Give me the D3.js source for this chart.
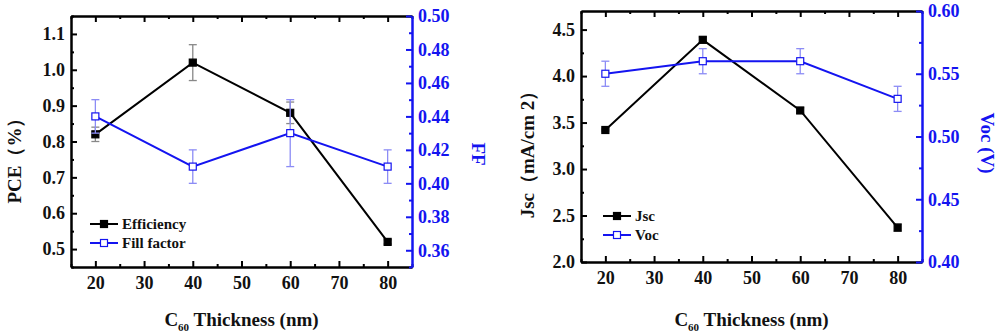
<!DOCTYPE html>
<html>
<head>
<meta charset="utf-8">
<script src="https://cdn.jsdelivr.net/npm/d3@7"></script>
<style>
  body { margin: 0; background: #fff; }
  .axis path, .axis line { stroke-width: 2; }
</style>
</head>
<body>
<svg id="chart" width="1000" height="336"></svg>
<script>
// values
var thickness = [20, 40, 60, 80];
var pce = [0.82, 1.02, 0.88, 0.52];
var pceErr = [0.02, 0.05, 0.03, 0.006];
var ff = [0.44, 0.41, 0.43, 0.41];
var ffErr = [0.01, 0.01, 0.02, 0.01];
var jsc = [3.42, 4.39, 3.63, 2.37];
var jscErr = [0.01, 0.03, 0.03, 0.04];
var voc = [0.55, 0.56, 0.56, 0.53];
var vocErr = [0.01, 0.01, 0.01, 0.01];

var xTicks = [20, 30, 40, 50, 60, 70, 80];
var xMinor = [15, 25, 35, 45, 55, 65, 75, 85];
var pceTicks = [0.5, 0.6, 0.7, 0.8, 0.9, 1.0, 1.1];
var pceMinor = [0.45, 0.55, 0.65, 0.75, 0.85, 0.95, 1.05, 1.15];
var ffTicks = [0.36, 0.38, 0.40, 0.42, 0.44, 0.46, 0.48, 0.50];
var ffMinor = [0.35, 0.37, 0.39, 0.41, 0.43, 0.45, 0.47, 0.49];
var jscTicks = [2.0, 2.5, 3.0, 3.5, 4.0, 4.5];
var jscMinor = [2.25, 2.75, 3.25, 3.75, 4.25];
var vocTicks = [0.40, 0.45, 0.50, 0.55, 0.60];
var vocMinor = [0.425, 0.475, 0.525, 0.575];

var BLUE = "#1414f0";
var FONT = "'Liberation Serif', 'Times New Roman', 'DejaVu Serif', serif";
var svg = d3.select("#chart").attr("font-family", FONT).attr("font-weight", "bold");

function styleText(sel, size, color) {
    sel.style("font-family", FONT).style("font-weight", "bold")
        .style("font-size", size + "px").attr("fill", color);
}

function drawPanel(p) {
    var w = p.x1 - p.x0, h = p.y1 - p.y0;
    var g = svg.append("g").attr("transform", "translate(" + p.x0 + "," + p.y0 + ")");

    var x = d3.scaleLinear().domain([15, 85]).range([0, w]);
    var yL = d3.scaleLinear().domain(p.leftDomain).range([h, 0]);
    var yR = d3.scaleLinear().domain(p.rightDomain).range([h, 0]);

    // bottom axis
    var bx = g.append("g").attr("class", "axis").attr("transform", "translate(0," + h + ")")
        .call(d3.axisBottom(x).tickValues(xTicks).tickSize(-6).tickPadding(9).tickSizeOuter(0).tickFormat(d3.format("d")));
    styleText(bx.selectAll("text"), 18, "#111");
    g.append("g").attr("class", "axis").attr("transform", "translate(0," + h + ")")
        .call(d3.axisBottom(x).tickValues(xMinor).tickSize(-3).tickSizeOuter(0).tickFormat(""));
    // top axis
    g.append("g").attr("class", "axis")
        .call(d3.axisTop(x).tickValues(xTicks).tickSize(-6).tickSizeOuter(0).tickFormat(""));
    g.append("g").attr("class", "axis")
        .call(d3.axisTop(x).tickValues(xMinor).tickSize(-3).tickSizeOuter(0).tickFormat(""));

    // left axis
    var ly = g.append("g").attr("class", "axis")
        .call(d3.axisLeft(yL).tickValues(p.leftTicks).tickSize(-6).tickPadding(6).tickSizeOuter(0).tickFormat(d3.format(".1f")));
    styleText(ly.selectAll("text"), 18, "#111");
    g.append("g").attr("class", "axis")
        .call(d3.axisLeft(yL).tickValues(p.leftMinor).tickSize(-3).tickSizeOuter(0).tickFormat(""));

    // right axis (blue)
    var ra = g.append("g").attr("class", "axis").attr("transform", "translate(" + w + ",0)")
        .call(d3.axisRight(yR).tickValues(p.rightTicks).tickSize(-6).tickPadding(6).tickSizeOuter(0).tickFormat(d3.format(".2f")));
    styleText(ra.selectAll("text"), 18, BLUE);
    ra.selectAll("line,path").attr("stroke", BLUE);
    var rm = g.append("g").attr("class", "axis").attr("transform", "translate(" + w + ",0)")
        .call(d3.axisRight(yR).tickValues(p.rightMinor).tickSize(-3).tickSizeOuter(0).tickFormat(""));
    rm.selectAll("line,path").attr("stroke", BLUE);

    function series(vals, errs, y, color, errColor, filled) {
        var pts = thickness.map(function (t, i) { return { t: t, v: vals[i], e: errs[i] }; });
        var eb = g.append("g").attr("stroke", errColor).attr("stroke-width", 1.3);
        pts.forEach(function (d) {
            eb.append("line").attr("x1", x(d.t)).attr("x2", x(d.t)).attr("y1", y(d.v - d.e)).attr("y2", y(d.v + d.e));
            eb.append("line").attr("x1", x(d.t) - 4).attr("x2", x(d.t) + 4).attr("y1", y(d.v - d.e)).attr("y2", y(d.v - d.e));
            eb.append("line").attr("x1", x(d.t) - 4).attr("x2", x(d.t) + 4).attr("y1", y(d.v + d.e)).attr("y2", y(d.v + d.e));
        });
        g.append("path").datum(pts)
            .attr("fill", "none").attr("stroke", color).attr("stroke-width", 2)
            .attr("d", d3.line().x(function (d) { return x(d.t); }).y(function (d) { return y(d.v); }));
        g.selectAll(null).data(pts).enter().append("rect")
            .attr("x", function (d) { return x(d.t) - 3.5; })
            .attr("y", function (d) { return y(d.v) - 3.5; })
            .attr("width", 7).attr("height", 7)
            .attr("fill", filled ? color : "#fff")
            .attr("stroke", color).attr("stroke-width", 1.2);
    }
    series(p.left, p.leftErr, yL, "#000", "#888", true);
    series(p.right, p.rightErr, yR, BLUE, "#8c8cf5", false);

    // legend
    p.legend.forEach(function (lg, i) {
        var yy = p.legendY + i * p.legendGap;
        var color = i === 0 ? "#000" : BLUE;
        g.append("line").attr("x1", p.legendX).attr("x2", p.legendX + 28)
            .attr("y1", yy).attr("y2", yy).attr("stroke", color).attr("stroke-width", 2);
        g.append("rect").attr("x", p.legendX + 14 - 3.5).attr("y", yy - 3.5).attr("width", 7).attr("height", 7)
            .attr("fill", i === 0 ? "#000" : "#fff").attr("stroke", color).attr("stroke-width", 1.2);
        styleText(g.append("text").attr("x", p.legendX + 32).attr("y", yy + 5).text(lg), 15, "#111");
    });

    // x label
    var xl = svg.append("text").attr("x", p.x0 + w / 2).attr("y", 326).attr("text-anchor", "middle");
    styleText(xl, 19, "#111");
    xl.append("tspan").text("C");
    xl.append("tspan").attr("dy", 5).style("font-size", "11px").text("60");
    xl.append("tspan").attr("dy", -5).text(" Thickness (nm)");

    // y labels
    styleText(svg.append("text").attr("transform", "translate(" + p.leftLabelX + "," + (p.y0 + p.leftLabelY) + ") rotate(-90)")
        .attr("text-anchor", "middle").text(p.leftLabel), 19, "#111");
    styleText(svg.append("text").attr("transform", "translate(" + p.rightLabelX + "," + (p.y0 + p.rightLabelY) + ") rotate(90)")
        .attr("text-anchor", "middle").text(p.rightLabel), 19, BLUE);
}

drawPanel({
    x0: 71, x1: 412, y0: 16, y1: 267,
    leftDomain: [0.45, 1.15], rightDomain: [0.35, 0.50],
    leftTicks: pceTicks, leftMinor: pceMinor, rightTicks: ffTicks, rightMinor: ffMinor,
    left: pce, leftErr: pceErr, right: ff, rightErr: ffErr,
    legend: ["Efficiency", "Fill factor"], legendX: 19, legendY: 208, legendGap: 19,
    leftLabel: "PCE（%）", leftLabelX: 21, leftLabelY: 140,
    rightLabel: "FF", rightLabelX: 472, rightLabelY: 138
});

drawPanel({
    x0: 581, x1: 922, y0: 11, y1: 262,
    leftDomain: [2.0, 4.7], rightDomain: [0.40, 0.60],
    leftTicks: jscTicks, leftMinor: jscMinor, rightTicks: vocTicks, rightMinor: vocMinor,
    left: jsc, leftErr: jscErr, right: voc, rightErr: vocErr,
    legend: ["Jsc", "Voc"], legendX: 22, legendY: 205, legendGap: 19,
    leftLabel: "Jsc（mA/cm  2）", leftLabelX: 534, leftLabelY: 139,
    rightLabel: "Voc (V)", rightLabelX: 981, rightLabelY: 132
});
</script>
</body>
</html>
